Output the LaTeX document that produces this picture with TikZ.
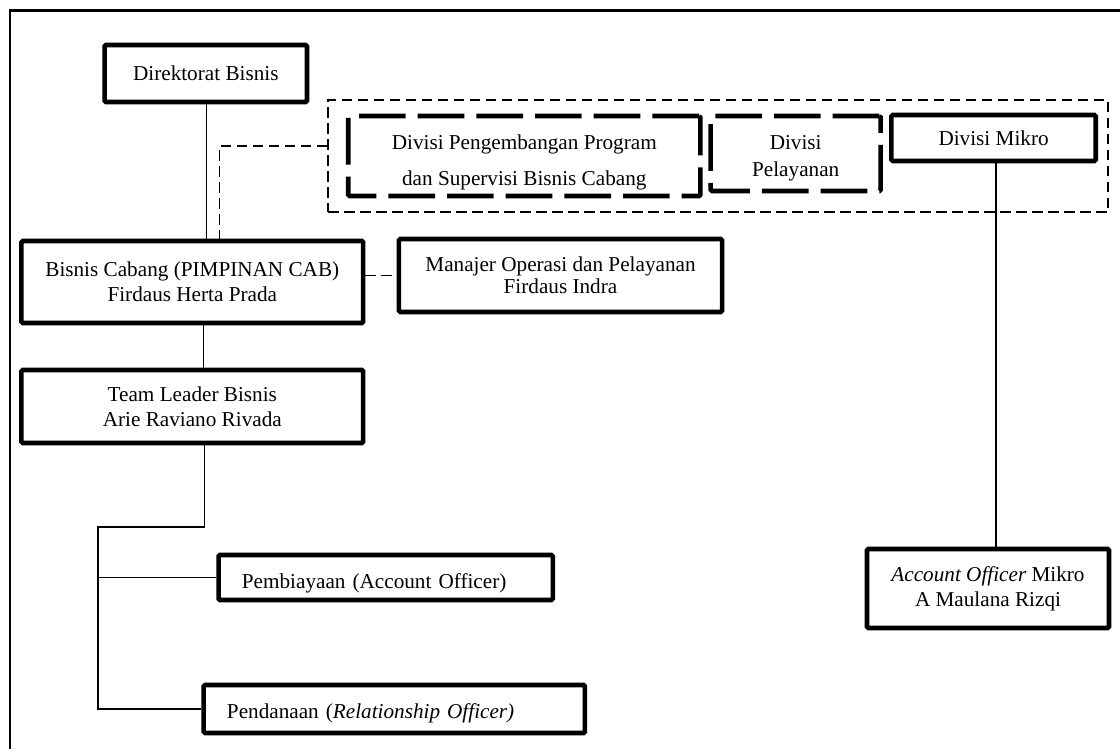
\documentclass[tikz,border=0pt]{standalone}
\usepackage{fontspec}
\setmainfont{Liberation Serif}
\usetikzlibrary{positioning}
\usetikzlibrary{calc}

\begin{document}
\begin{tikzpicture}[x=0.75pt, y=-0.75pt,
	font=\fontsize{15.9}{18.75}\selectfont,
	unit/.style={draw, line width=3.4pt, rounded corners=1pt, align=center, inner sep=0pt},
	dashunit/.style={unit, dash pattern=on 35pt off 9pt},
	leftunit/.style={unit, align=left, inner xsep=17.5pt},
	link/.style={line width=1.2pt},
	dashlink/.style={line width=1.2pt, dash pattern=on 8pt off 4pt}]
				\useasboundingbox (0,0) rectangle (1120,749);
				
				% Draw the outer frame
				\draw[line width=1.6pt] (9.6,749) -- (9.6,10.5) -- (1120,10.5);
				
				% Draw the group of divisions
				\node[dashlink, draw, minimum width=585.2pt, minimum height=84pt] (grp) at (718,156) {};
				\node[dashunit, minimum width=264.1pt, minimum height=60pt] (dpp) at (524.3,156)
					{\rule{0pt}{21pt}Divisi Pengembangan Program\\[8.25pt]dan Supervisi Bisnis Cabang};
				\node[dashunit, minimum width=127.5pt, minimum height=56.25pt] (dpl) at (795.7,153.5)
					{\rule{0pt}{17pt}Divisi\\[1.5pt]Pelayanan};
				\node[unit, minimum width=153.2pt, minimum height=34.5pt] (dmk) at (993.6,138) {Divisi Mikro};
				
				% Draw the units
				\node[unit, minimum width=151.8pt, minimum height=42.75pt] (dir) at (205.8,73.5) {Direktorat Bisnis};
				\node[unit, minimum width=256.3pt, minimum height=61.5pt] (cab) at (192.3,282)
					{Bisnis Cabang (PIMPINAN CAB)\\Firdaus Herta Prada};
				\node[unit, minimum width=242.3pt, minimum height=54.75pt] (mgr) at (560.5,275.5)
					{Manajer Operasi dan Pelayanan\\[-2.25pt]Firdaus Indra};
				\node[unit, minimum width=256.3pt, minimum height=54.75pt] (tl) at (192.3,406.5)
					{Team Leader Bisnis\\Arie Raviano Rivada};
				\node[leftunit, text width=215.7pt, minimum height=33.75pt, text height=20pt, text depth=3.5pt] (pby) at (385.7,577.5)
					{Pembiayaan (Account Officer)};
				\node[leftunit, text width=251pt, minimum height=36pt, text height=17pt, text depth=3.5pt] (pdn) at (394.3,709)
					{Pendanaan (\textit{Relationship Officer)}};
				\node[unit, minimum width=181.5pt, minimum height=59.25pt] (aom) at (988,588.5)
					{\textit{Account Officer} Mikro\\A Maulana Rizqi};
				
				% Draw the lines
				\coordinate (tap) at (219.6,241);
				\coordinate (grpin) at (328,146);
				\coordinate (bus) at (98.2,527);
				\draw[link] ([xshift=0.45pt]dir.south) -- ([xshift=0.45pt]dir.south |- cab.north);
				\draw[dashlink] (tap) |- (grpin);
				\draw[dashlink] (mgr.west -| cab.east) -- (mgr.west);
				\draw[link] ([xshift=8.5pt]cab.south) -- ([xshift=8.5pt]tl.north);
				\draw[link] ([xshift=9pt]tl.south) |- (bus) -- (bus |- pdn.west) -- (pdn.west);
				\draw[link] (bus |- pby.west) -- (pby.west);
				\draw[link] ([xshift=1.6pt]dmk.south) -- ([xshift=1.6pt]dmk.south |- aom.north);
			\end{tikzpicture}
\end{document}
